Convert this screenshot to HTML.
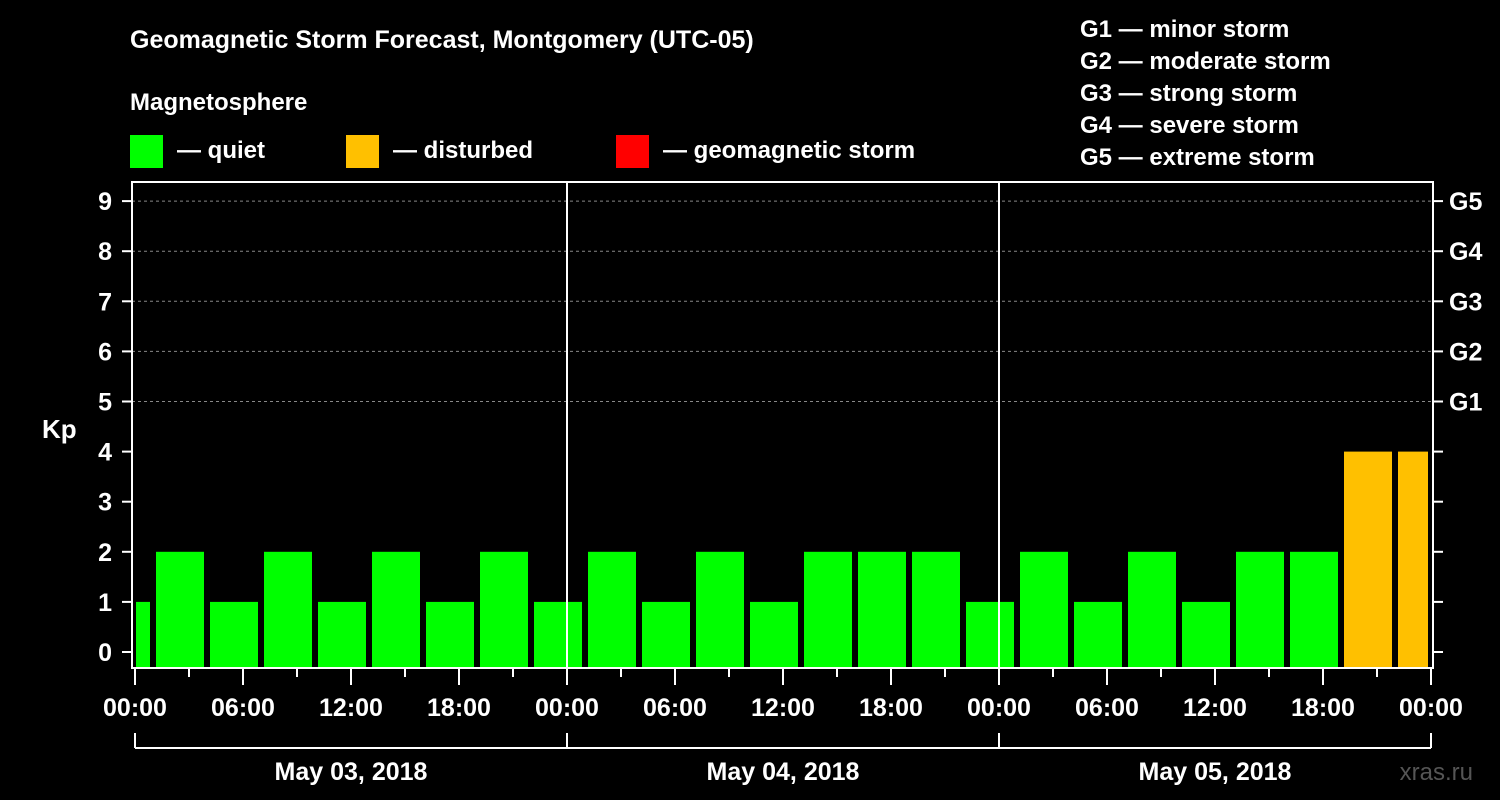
<!DOCTYPE html>
<html><head><meta charset="utf-8"><style>
body{margin:0;background:#000;}
svg{display:block;font-family:"Liberation Sans",sans-serif;font-weight:bold;}
</style></head><body>
<svg id="c" width="1500" height="800">
<rect width="1500" height="800" fill="#000"/>
<text x="130" y="48" fill="#fff" font-size="25">Geomagnetic Storm Forecast, Montgomery (UTC-05)</text>
<text x="130" y="110" fill="#fff" font-size="24">Magnetosphere</text>
<g><rect x="130" y="135" width="33" height="33" fill="#00ff00"/><text x="177" y="158" fill="#fff" font-size="24">— quiet</text></g>
<g><rect x="346" y="135" width="33" height="33" fill="#ffc000"/><text x="393" y="158" fill="#fff" font-size="24">— disturbed</text></g>
<g><rect x="616" y="135" width="33" height="33" fill="#ff0000"/><text x="663" y="158" fill="#fff" font-size="24">— geomagnetic storm</text></g>
<g fill="#fff" font-size="24">
<text x="1080" y="37">G1 — minor storm</text>
<text x="1080" y="69">G2 — moderate storm</text>
<text x="1080" y="101">G3 — strong storm</text>
<text x="1080" y="133">G4 — severe storm</text>
<text x="1080" y="165">G5 — extreme storm</text>
</g>
<text x="42" y="438" fill="#fff" font-size="26">Kp</text>
<text x="1473" y="780" fill="#555" font-size="24" font-weight="normal" text-anchor="end">xras.ru</text>
<g id="plot"></g>
</svg>
<script>
const kpValues=[1,2,1,2,1,2,1,2,1, 2,1,2,1,2,2,2,1, 2,1,2,1,2,2,4,4];
const slotStartHours=-2;
const slotHours=3;
const dayLabels=["May 03, 2018","May 04, 2018","May 05, 2018"];
const hourTickLabels=["00:00","06:00","12:00","18:00"];
const gLabels=["G1","G2","G3","G4","G5"];

const NS="http://www.w3.org/2000/svg";
const L=132,R=1433,T=182,B=668,X0=135,PXH=18;
const xs=h=>X0+h*PXH;
const ys=v=>652-v*50.1;
const g=document.getElementById('plot');
function mk(t,a,p){const e=document.createElementNS(NS,t);for(const k in a)e.setAttribute(k,a[k]);(p||g).appendChild(e);return e;}
// grid
for(let v=5;v<=9;v++){
 const l=mk('line',{x1:L,x2:R,y1:ys(v),y2:ys(v),stroke:'#888','stroke-dasharray':'3,3','stroke-width':1});
 
 
}
// bars
kpValues.forEach((v,i)=>{
 const h0=slotStartHours+i*slotHours;
 let x1=xs(h0)+3,x2=xs(h0+slotHours)-3;
 x1=Math.max(x1,X0+1);x2=Math.min(x2,xs(72)-3);
 const c=v>=5?'#ff0000':(v>=4?'#ffc000':'#00ff00');
 const r=mk('rect',{x:x1,y:ys(v),width:x2-x1,height:B-ys(v),fill:c});
 
 
});
// day separators
for(let d=1;d<dayLabels.length;d++){
 const l=mk('line',{x1:xs(d*24),x2:xs(d*24),y1:T,y2:B,stroke:'#fff','stroke-width':2});
 
 
}
// frame
const f=mk('rect',{x:L,y:T,width:R-L,height:B-T,fill:'none',stroke:'#fff','stroke-width':2});


// y ticks
for(let v=0;v<=9;v++){
 const y=ys(v);
 mk('line',{x1:122,x2:L,y1:y,y2:y,stroke:'#fff','stroke-width':2});
 mk('line',{x1:R,x2:R+10,y1:y,y2:y,stroke:'#fff','stroke-width':2});
 const t=mk('text',{x:112,y:y+9,fill:'#fff','font-size':25,'text-anchor':'end'});t.textContent=v;
 
 
 if(v>=5){const gt=mk('text',{x:1449,y:y+9,fill:'#fff','font-size':25});gt.textContent=gLabels[v-5];
  
  }
}
// x ticks
for(let h=0;h<=72;h+=3){
 const x=xs(h),major=h%6===0;
 mk('line',{x1:x,x2:x,y1:B,y2:major?685:677,stroke:'#fff','stroke-width':2});
 if(major){const t=mk('text',{x:x,y:716,fill:'#fff','font-size':25,'text-anchor':'middle'});
  t.textContent=hourTickLabels[(h/6)%4];
  
  }
}
// date bracket
mk('line',{x1:xs(0),x2:xs(72),y1:748,y2:748,stroke:'#fff','stroke-width':2});
for(let d=0;d<=dayLabels.length;d++) mk('line',{x1:xs(d*24),x2:xs(d*24),y1:733,y2:748,stroke:'#fff','stroke-width':2});
dayLabels.forEach((s,d)=>{
 const t=mk('text',{x:xs(d*24+12),y:780,fill:'#fff','font-size':25,'text-anchor':'middle'});t.textContent=s;
 
 
});
</script>
</body></html>
